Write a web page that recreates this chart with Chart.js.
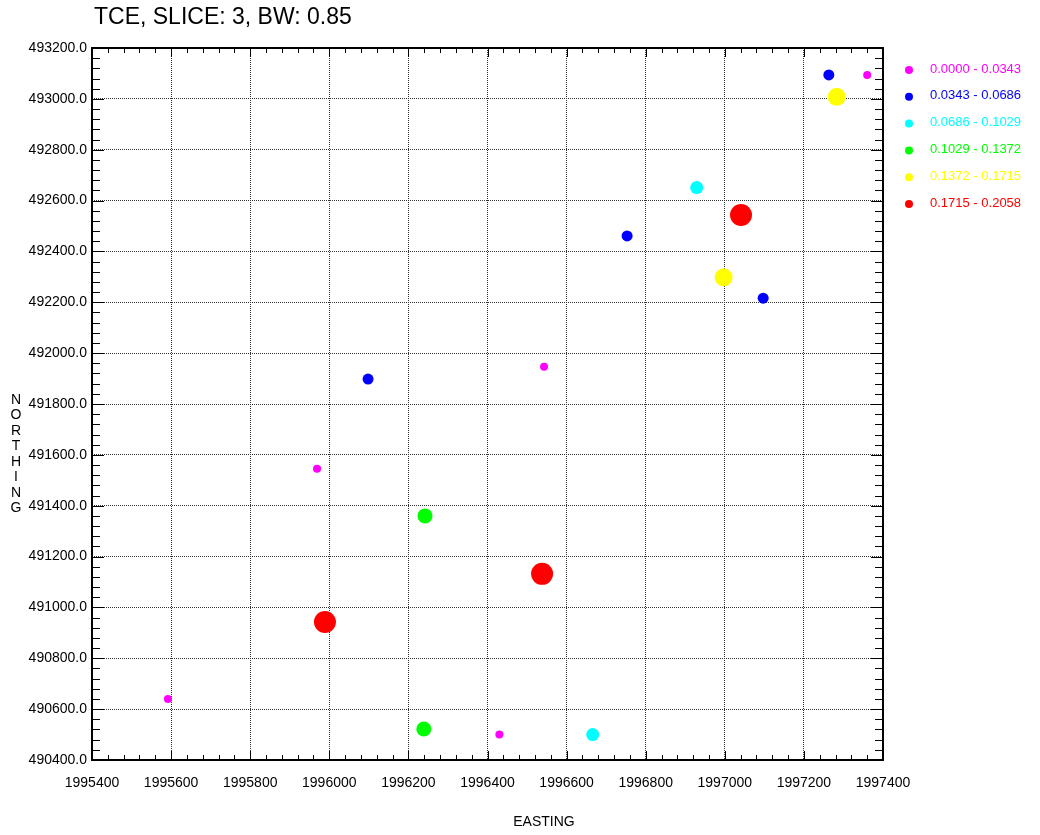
<!DOCTYPE html>
<html>
<head>
<meta charset="utf-8">
<script src="https://cdn.jsdelivr.net/npm/chart.js@4"></script>
<style>
  body { margin: 0; background: #fff; }
  #wrap { width: 1040px; height: 835px; }
</style>
</head>
<body>
<div id="wrap"><canvas id="myChart" width="1040" height="835"></canvas></div>
<script>
// TCE concentration classes
const classLabels = ['0.0000 - 0.0343', '0.0343 - 0.0686', '0.0686 - 0.1029', '0.1029 - 0.1372', '0.1372 - 0.1715', '0.1715 - 0.2058'];
const classColors = ['#ff00ff', '#0000ff', '#00ffff', '#00ff00', '#ffff00', '#ff0000'];

// sample locations
const eastings  = [1997360, 1997263, 1997283, 1996929, 1997041, 1996753, 1996997, 1997097, 1996543, 1996098, 1995969, 1996242, 1996538, 1995989, 1995592, 1996239, 1996430, 1996666];
const northings = [493094, 493094, 493008, 492651, 492543, 492461, 492298, 492216, 491946, 491898, 491545, 491360, 491132, 490943, 490640, 490522, 490500, 490500];
const classes   = [0, 1, 4, 2, 5, 1, 4, 1, 0, 1, 0, 3, 5, 5, 0, 3, 0, 2];

const xTicks = [1995400, 1995600, 1995800, 1996000, 1996200, 1996400, 1996600, 1996800, 1997000, 1997200, 1997400];
const yTicks = [490400, 490600, 490800, 491000, 491200, 491400, 491600, 491800, 492000, 492200, 492400, 492600, 492800, 493000, 493200];

const pointSizes = [4, 5.5, 6.5, 7.5, 9, 11];
const FONT = '"Liberation Sans", Arial, sans-serif';

let datasets = classLabels.map(function (lab, c) {
  let pts = [];
  for (let i = 0; i < eastings.length; i++) {
    if (classes[i] === c) pts.push({ x: eastings[i], y: northings[i] });
  }
  return {
    label: lab,
    data: pts,
    backgroundColor: classColors[c],
    borderColor: classColors[c],
    borderWidth: 0,
    pointRadius: pointSizes[c],
    pointHoverRadius: pointSizes[c]
  };
});

// title, axis names, box, inward ticks, legend
const decor = {
  id: 'decor',
  afterDraw: function (chart) {
    const ctx = chart.ctx;
    const a = chart.chartArea;
    const xs = chart.scales.x, ys = chart.scales.y;
    ctx.save();
    ctx.fillStyle = '#000';
    ctx.font = '23px ' + FONT;
    ctx.textBaseline = 'middle';
    ctx.textAlign = 'left';
    ctx.fillText('TCE, SLICE: 3, BW: 0.85', 94, 18);

    ctx.font = '14px ' + FONT;
    ctx.textAlign = 'center';
    ctx.fillText('EASTING', 544, 822);
    const word = 'NORTHING';
    for (let i = 0; i < word.length; i++) {
      ctx.fillText(word[i], 16, 400 + i * 15.5);
    }

    // inward ticks
    ctx.strokeStyle = '#000';
    ctx.lineWidth = 1;
    ctx.beginPath();
    for (let v = xTicks[0]; v <= xTicks[xTicks.length - 1]; v += 40) {
      const px = Math.round(xs.getPixelForValue(v)) + 0.5;
      const len = (v - xTicks[0]) % 200 === 0 ? 9 : 5;
      ctx.moveTo(px, a.bottom); ctx.lineTo(px, a.bottom - len);
      ctx.moveTo(px, a.top); ctx.lineTo(px, a.top + len);
    }
    for (let v = yTicks[0]; v <= yTicks[yTicks.length - 1]; v += 40) {
      const py = Math.round(ys.getPixelForValue(v)) + 0.5;
      const len = (v - yTicks[0]) % 200 === 0 ? 12 : 8;
      ctx.moveTo(a.left, py); ctx.lineTo(a.left + len, py);
      ctx.moveTo(a.right, py); ctx.lineTo(a.right - len, py);
    }
    ctx.stroke();

    ctx.lineWidth = 2;
    ctx.strokeRect(a.left, a.top, a.right - a.left, a.bottom - a.top);

    // legend
    ctx.font = '13px ' + FONT;
    ctx.textAlign = 'left';
    for (let c = 0; c < classLabels.length; c++) {
      const y = 69 + c * 26.8;
      ctx.fillStyle = classColors[c];
      ctx.beginPath();
      ctx.arc(909, y + 1, 4, 0, Math.PI * 2);
      ctx.fill();
      ctx.fillText(classLabels[c], 930, y);
    }
    ctx.restore();
  }
};

const chart = new Chart(document.getElementById('myChart'), {
  type: 'scatter',
  data: { datasets: datasets },
  options: {
    responsive: false,
    animation: false,
    layout: { padding: { top: 48, right: 157, bottom: 0, left: 0 } },
    plugins: {
      legend: { display: false },
      tooltip: { enabled: false }
    },
    scales: {
      x: {
        type: 'linear',
        min: 1995400,
        max: 1997400,
        afterFit: function (s) { s.height = 75; },
        afterBuildTicks: function (s) { s.ticks = xTicks.map(v => ({ value: v })); },
        grid: { color: '#333', drawTicks: false },
        border: { display: false, dash: [1, 1] },
        ticks: {
          padding: 15,
          color: '#000',
          font: { family: FONT, size: 14 },
          callback: v => String(v)
        }
      },
      y: {
        type: 'linear',
        min: 490400,
        max: 493200,
        afterFit: function (s) { s.width = 92; },
        afterBuildTicks: function (s) { s.ticks = yTicks.map(v => ({ value: v })); },
        grid: { color: '#333', drawTicks: false },
        border: { display: false, dash: [1, 1] },
        ticks: {
          padding: 5,
          color: '#000',
          font: { family: FONT, size: 14 },
          callback: v => v.toFixed(1)
        }
      }
    }
  },
  plugins: [decor]
});
</script>
</body>
</html>
